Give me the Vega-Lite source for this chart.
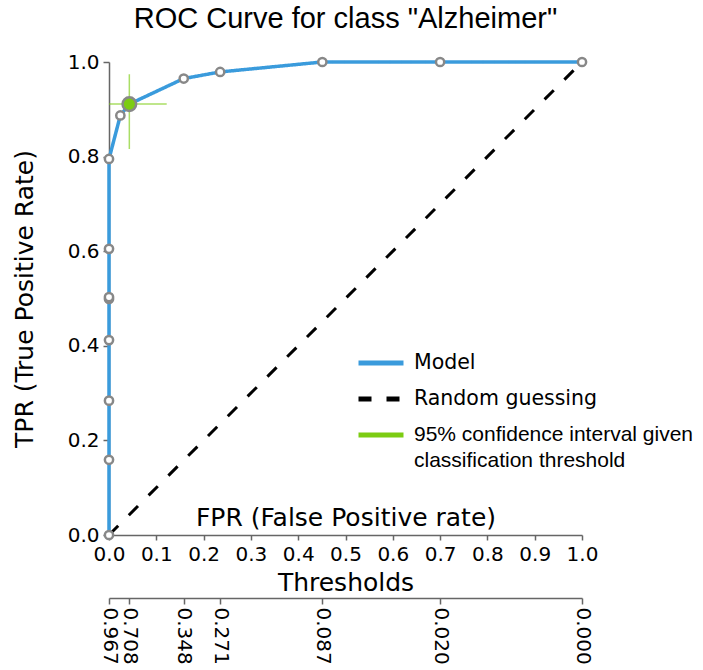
{
  "$schema": "https://vega.github.io/schema/vega-lite/v6.json",
  "width": 473,
  "height": 473,
  "autosize": {"type": "none"},
  "padding": {"left": 109, "top": 62, "right": 121, "bottom": 135},
  "title": {
    "text": "ROC Curve for class \"Alzheimer\"",
    "font": "Liberation Sans",
    "fontSize": 29,
    "fontWeight": "normal",
    "color": "black",
    "anchor": "middle",
    "offset": 18
  },
  "config": {
    "view": {"stroke": null},
    "axis": {
      "labelFont": "DejaVu Sans",
      "titleFont": "DejaVu Sans",
      "labelFontSize": 20,
      "titleFontSize": 25,
      "titleFontWeight": "normal",
      "labelColor": "black",
      "titleColor": "black",
      "domainColor": "#666666",
      "tickColor": "#666666",
      "domainWidth": 1.5,
      "tickWidth": 1.5,
      "labelFlush": false,
      "grid": false
    },
    "legend": {
      "labelFont": "DejaVu Sans",
      "labelFontSize": 20,
      "labelColor": "black"
    }
  },
  "datasets": {
    "roc": [
      {"fpr": 0, "tpr": 0},
      {"fpr": 0, "tpr": 0.159},
      {"fpr": 0, "tpr": 0.284},
      {"fpr": 0, "tpr": 0.412},
      {"fpr": 0, "tpr": 0.499},
      {"fpr": 0, "tpr": 0.503},
      {"fpr": 0, "tpr": 0.605},
      {"fpr": 0, "tpr": 0.795},
      {"fpr": 0.024, "tpr": 0.887},
      {"fpr": 0.043, "tpr": 0.911},
      {"fpr": 0.158, "tpr": 0.965},
      {"fpr": 0.235, "tpr": 0.979},
      {"fpr": 0.451, "tpr": 1.0},
      {"fpr": 0.70, "tpr": 1.0},
      {"fpr": 1.0, "tpr": 1.0}
    ],
    "diag": [
      {"fpr": 0, "tpr": 0},
      {"fpr": 1, "tpr": 1}
    ],
    "ci": [
      {"fpr": 0.043, "tpr": 0.911, "fpr_lo": 0.0, "fpr_hi": 0.122, "tpr_lo": 0.816, "tpr_hi": 0.974}
    ],
    "thresholds": [
      {"fpr": 0, "threshold": "0.967"},
      {"fpr": 0.043, "threshold": "0.708"},
      {"fpr": 0.158, "threshold": "0.348"},
      {"fpr": 0.235, "threshold": "0.271"},
      {"fpr": 0.451, "threshold": "0.087"},
      {"fpr": 0.70, "threshold": "0.020"},
      {"fpr": 1.0, "threshold": "0.000"}
    ]
  },
  "layer": [
    {
      "layer": [
        {
          "data": {"name": "diag"},
          "mark": {"type": "line", "strokeWidth": 3, "strokeCap": "butt"},
          "encoding": {
            "x": {
              "field": "fpr",
              "type": "quantitative",
              "scale": {"domain": [0, 1], "nice": false, "zero": false},
              "axis": {
                "values": [0, 0.1, 0.2, 0.3, 0.4, 0.5, 0.6, 0.7, 0.8, 0.9, 1.0],
                "format": ".1f",
                "tickSize": 5,
                "labelPadding": 4,
                "title": "FPR (False Positive rate)",
                "titleY": -10,
                "titleBaseline": "alphabetic"
              }
            },
            "y": {
              "field": "tpr",
              "type": "quantitative",
              "scale": {"domain": [0, 1], "nice": false},
              "axis": {
                "values": [0, 0.2, 0.4, 0.6, 0.8, 1.0],
                "format": ".1f",
                "tickSize": 6,
                "labelPadding": 4,
                "title": "TPR (True Positive Rate)",
                "titleX": -97,
                "titleBaseline": "top"
              }
            },
            "color": {
              "datum": "Random guessing",
              "scale": {
                "domain": ["Model", "Random guessing", "95% confidence interval given classification threshold"],
                "range": ["#3a9bdc", "#000000", "#7ccc12"]
              },
              "legend": {
                "title": null,
                "orient": "none",
                "legendX": 247,
                "legendY": 276,
                "symbolType": "stroke",
                "symbolSize": 2025,
                "symbolStrokeWidth": 5,
                "labelOffset": 8,
                "labelLimit": 400,
                "rowPadding": 0,
                "padding": 0,
                "labelExpr": "datum.label == '95% confidence interval given classification threshold' ? ['95% confidence interval given', 'classification threshold'] : datum.label",
                "encode": {
                  "labels": {
                    "update": {
                      "font": {"signal": "datum.value == '95% confidence interval given classification threshold' ? 'Liberation Sans' : 'DejaVu Sans'"},
                      "fontSize": {"signal": "datum.value == '95% confidence interval given classification threshold' ? 21 : 20.5"},
                      "lineHeight": {"value": 26}
                    }
                  }
                }
              }
            },
            "strokeDash": {
              "datum": "Random guessing",
              "scale": {
                "domain": ["Model", "Random guessing", "95% confidence interval given classification threshold"],
                "range": [[1, 0], [13, 15], [1, 0]]
              },
              "legend": {
                "title": null,
                "orient": "none",
                "legendX": 247,
                "legendY": 276,
                "symbolType": "stroke",
                "symbolSize": 2025,
                "symbolStrokeWidth": 5,
                "labelOffset": 8,
                "labelLimit": 400,
                "rowPadding": 0,
                "padding": 0,
                "labelExpr": "datum.label == '95% confidence interval given classification threshold' ? ['95% confidence interval given', 'classification threshold'] : datum.label",
                "encode": {
                  "labels": {
                    "update": {
                      "font": {"signal": "datum.value == '95% confidence interval given classification threshold' ? 'Liberation Sans' : 'DejaVu Sans'"},
                      "fontSize": {"signal": "datum.value == '95% confidence interval given classification threshold' ? 21 : 20.5"},
                      "lineHeight": {"value": 26}
                    }
                  }
                }
              }
            }
          }
        },
        {
          "data": {"name": "roc"},
          "mark": {"type": "line", "strokeWidth": 3.5},
          "encoding": {
            "x": {"field": "fpr", "type": "quantitative"},
            "y": {"field": "tpr", "type": "quantitative"},
            "order": {"field": "tpr", "type": "quantitative"},
            "color": {"datum": "Model"},
            "strokeDash": {"datum": "Model"}
          }
        },
        {
          "data": {"name": "ci"},
          "mark": {"type": "rule", "strokeWidth": 1.5, "strokeOpacity": 0.65},
          "encoding": {
            "x": {"field": "fpr_lo", "type": "quantitative"},
            "x2": {"field": "fpr_hi"},
            "y": {"field": "tpr", "type": "quantitative"},
            "color": {"datum": "95% confidence interval given classification threshold"},
            "strokeDash": {"datum": "95% confidence interval given classification threshold"}
          }
        },
        {
          "data": {"name": "ci"},
          "mark": {"type": "rule", "strokeWidth": 1.5, "strokeOpacity": 0.65},
          "encoding": {
            "x": {"field": "fpr", "type": "quantitative"},
            "y": {"field": "tpr_lo", "type": "quantitative"},
            "y2": {"field": "tpr_hi"},
            "color": {"datum": "95% confidence interval given classification threshold"},
            "strokeDash": {"datum": "95% confidence interval given classification threshold"}
          }
        },
        {
          "data": {"name": "roc"},
          "mark": {"type": "point", "shape": "circle", "filled": false, "fill": "white", "fillOpacity": 1, "stroke": "#888888", "strokeWidth": 2.5, "size": 68, "opacity": 1},
          "encoding": {
            "x": {"field": "fpr", "type": "quantitative"},
            "y": {"field": "tpr", "type": "quantitative"}
          }
        },
        {
          "data": {"name": "ci"},
          "mark": {"type": "point", "shape": "circle", "filled": true, "fill": "#7ccc12", "stroke": "#888888", "strokeWidth": 2.5, "size": 185, "opacity": 1},
          "encoding": {
            "x": {"field": "fpr", "type": "quantitative"},
            "y": {"field": "tpr", "type": "quantitative"}
          }
        }
      ]
    },
    {
      "data": {"name": "thresholds"},
      "mark": {"type": "point", "opacity": 0},
      "encoding": {
        "x": {
          "field": "fpr",
          "type": "quantitative",
          "scale": {"domain": [0, 1], "nice": false, "zero": false},
          "axis": {
            "orient": "bottom",
            "offset": 63,
            "values": [0, 0.043, 0.158, 0.235, 0.451, 0.70, 1.0],
            "labelExpr": "datum.value == 0 ? '0.967' : datum.value == 0.043 ? '0.708' : datum.value == 0.158 ? '0.348' : datum.value == 0.235 ? '0.271' : datum.value == 0.451 ? '0.087' : datum.value == 0.7 ? '0.020' : '0.000'",
            "labelAngle": 90,
            "labelAlign": "left",
            "labelBaseline": "middle",
            "labelOverlap": false,
            "labelBound": false,
            "labelFlush": false,
            "tickSize": 6,
            "labelPadding": 3,
            "title": "Thresholds",
            "titleY": -8,
            "titleBaseline": "alphabetic"
          }
        }
      }
    }
  ],
  "resolve": {"scale": {"x": "independent"}, "axis": {"x": "independent"}}
}
